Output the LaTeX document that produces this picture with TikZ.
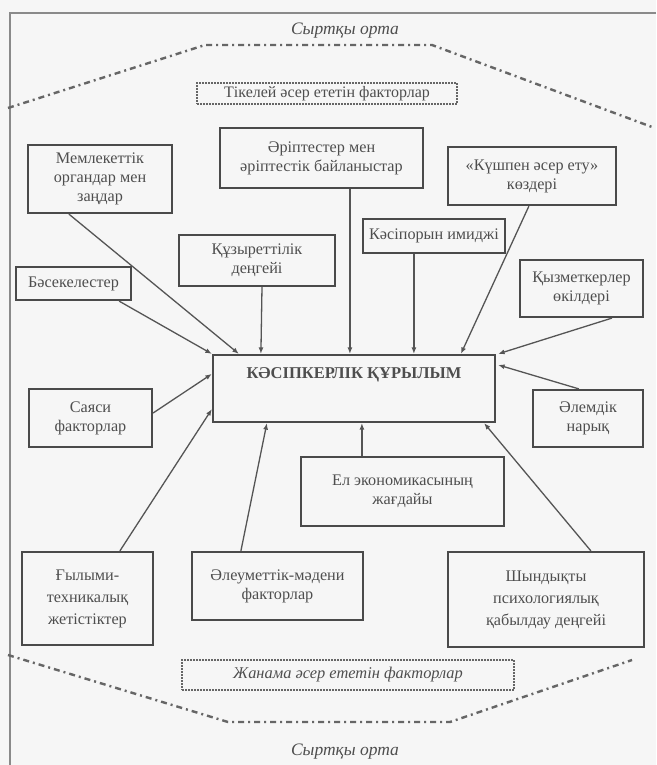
\documentclass[tikz,border=0pt]{standalone}
\usepackage{fontspec}
\setmainfont{Liberation Serif}
\usetikzlibrary{arrows.meta}
\definecolor{paper}{HTML}{F6F6F6}
\definecolor{ink}{HTML}{4E4E4E}
\definecolor{boxline}{HTML}{4A4A4A}
\definecolor{wire}{HTML}{555555}
\definecolor{frameline}{HTML}{8A8A8A}
\definecolor{zone}{HTML}{666666}
\begin{document}
\begin{tikzpicture}[x=1pt,y=-1pt,
  box/.style={draw=boxline, line width=2.2pt, align=center, inner sep=0pt,
    text=ink, font=\fontsize{16.2pt}{19pt}\selectfont},
  tallbox/.style={box, font=\fontsize{16.2pt}{22pt}\selectfont},
  dotbox/.style={draw=zone, line width=2.4pt, dash pattern=on 1.6pt off 1.4pt,
    align=center, inner sep=0pt, text=ink, font=\fontsize{16pt}{18pt}\selectfont},
  zoneline/.style={draw=zone, line width=2.4pt,
    dash pattern=on 6pt off 4pt on 2pt off 4pt},
  arr/.style={draw=wire, line width=1.3pt, -{Latex[length=6.5pt,width=5pt]}},
  outer/.style={text=ink, font=\fontsize{17.5pt}{20pt}\selectfont\itshape}
]
\useasboundingbox (0,0) rectangle (656,765);
\fill[paper] (0,0) rectangle (656,765);

% frame of the outer environment
\draw[frameline, line width=1.5pt] (656,13) -- (10,13) -- (10,765);

% boundary between the environment and the influence zones
\draw[zoneline] (8,108) -- (205,45) -- (432,45) -- (652,127);
\draw[zoneline] (8,655) -- (228,722) -- (450,722) -- (632,660);

% environment labels
\node[outer] (envtop) at (345,31) {Сыртқы орта};
\node[outer] (envbot) at (345,752) {Сыртқы орта};

% zone captions
\node[dotbox, minimum width=260pt, minimum height=21pt] (direct) at (327,93.5)
  {Тікелей әсер ететін факторлар};
\node[dotbox, minimum width=332pt, minimum height=30pt,
  font=\fontsize{16.4pt}{18pt}\selectfont\itshape]
  (indirect) at (348,675) {Жанама әсер ететін факторлар};

% central box
\node[box, minimum width=282pt, minimum height=67pt] (main) at (354,388.5) {};
\node[text=ink, font=\fontsize{16.5pt}{18pt}\selectfont\bfseries] (maintitle) at (354,375)
  {КӘСІПКЕРЛІК ҚҰРЫЛЫМ};

% factors
\node[box, minimum width=144pt, minimum height=68pt] (mem) at (100,179)
  {Мемлекеттік\\органдар мен\\заңдар};
\node[box, minimum width=203pt, minimum height=60pt] (erip) at (321.5,158)
  {Әріптестер мен\\әріптестік байланыстар};
\node[box, minimum width=168pt, minimum height=58pt] (kush) at (532,176)
  {«Күшпен әсер ету»\\көздері};
\node[box, minimum width=156pt, minimum height=51pt] (quz) at (257,260.5)
  {Құзыреттілік\\деңгейі};
\node[box, minimum width=142pt, minimum height=34pt] (kasip) at (434,236)
  {Кәсіпорын имиджі};
\node[box, minimum width=115pt, minimum height=33pt] (bas) at (73.5,283.5)
  {Бәсекелестер};
\node[box, minimum width=123pt, minimum height=57pt] (qyz) at (581.5,288.5)
  {Қызметкерлер\\өкілдері};
\node[box, minimum width=123pt, minimum height=58pt] (sayasi) at (90.5,418)
  {Саяси\\факторлар};
\node[box, minimum width=110pt, minimum height=57pt] (alem) at (588,418.5)
  {Әлемдік\\нарық};
\node[box, minimum width=203pt, minimum height=69pt] (el) at (402.5,491.5)
  {Ел экономикасының\\жағдайы};
\node[tallbox, minimum width=131pt, minimum height=93pt] (gyl) at (87.5,598.5)
  {Ғылыми-\\техникалық\\жетістіктер};
\node[box, minimum width=171pt, minimum height=68pt] (aleu) at (277.5,586)
  {Әлеуметтік-мәдени\\факторлар};
\node[tallbox, minimum width=196pt, minimum height=95pt] (shyn) at (546,599.5)
  {Шындықты\\психологиялық\\қабылдау деңгейі};

% influences on the central box
\draw[arr] ([xshift=42pt]mem.south west) -- ([xshift=27pt]main.north west);
\draw[arr] ([xshift=-13pt]bas.south east) -- (main.north west);
\draw[arr] ([xshift=5pt]quz.south) -- ([xshift=49pt]main.north west);
\draw[arr] ([xshift=131pt]erip.south west) -- ([xshift=138pt]main.north west);
\draw[arr] ([xshift=52pt]kasip.south west) -- ([xshift=202pt]main.north west);
\draw[arr] ([xshift=82pt]kush.south west) -- ([xshift=249pt]main.north west);
\draw[arr] ([xshift=93pt]qyz.south west) -- ([xshift=2pt]main.north east);
\draw[arr] ([xshift=47pt]alem.north west) -- ([xshift=2pt,yshift=-11pt]main.north east);
\draw[arr] ([yshift=5pt]sayasi.east) -- ([yshift=-20pt]main.north west);
\draw[arr] ([xshift=99pt]gyl.north west) -- ([yshift=14pt]main.south west);
\draw[arr] ([xshift=50pt]aleu.north west) -- ([xshift=55pt]main.south west);
\draw[arr] ([xshift=62pt]el.north west) -- ([xshift=150pt]main.south west);
\draw[arr] ([xshift=144pt]shyn.north west) -- ([xshift=-12pt]main.south east);
\end{tikzpicture}
\end{document}
